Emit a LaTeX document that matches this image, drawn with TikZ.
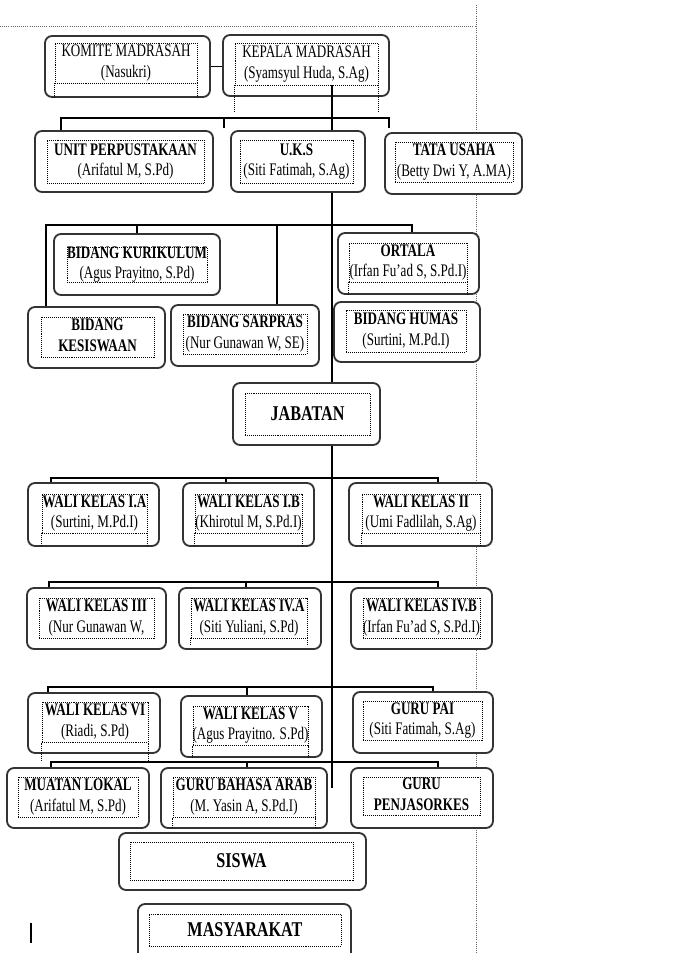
\documentclass[tikz,border=0pt]{standalone}
\usepackage{fontspec}
\setmainfont{Liberation Serif}
\usepackage{graphicx}
\usetikzlibrary{fit}

\newcommand{\boxtext}[2]{\scalebox{1}[1.35]{\begin{tabular}{@{}c@{}}\textbf{#1}\\#2\end{tabular}}}
\newcommand{\boxtextr}[2]{\scalebox{1}[1.35]{\begin{tabular}{@{}c@{}}#1\\#2\end{tabular}}}
\newcommand{\boxtitle}[1]{\scalebox{1}[1.3]{\fontsize{11.5}{13}\selectfont\bfseries #1}}

\begin{document}
\begin{tikzpicture}[x=0.025cm, y=-0.025cm,
  box/.style={draw=black!80, line width=1.3pt, rounded corners=5pt, fill=white, inner sep=0pt},
  tbox/.style={draw, dash pattern=on 0.7pt off 0.7pt, line width=0.7pt, inner sep=0pt},
  lbl/.style={inner sep=0pt, font=\fontsize{9.3}{10.8}\selectfont},
  dots/.style={dash pattern=on 0.7pt off 0.7pt, line width=0.7pt},
  link/.style={line width=0.8pt},
  guide/.style={black!60, dash pattern=on 0.6pt off 0.9pt, line width=0.6pt}]
\clip (0,0) rectangle (673,953);

% page margins
\draw[guide] (0,26) -- (476,26);
\draw[guide] (476,5) -- (476,953);

% top
\node[box, fit={(45,36)(210,97)}] (komite) {};
\node[tbox, fit={(55,43)(197,83)}] (komite-t) {};
\node[lbl] (komite-l) at (komite-t) {\boxtextr{KOMITE MADRASAH}{(Nasukri)}};
\node[box, fit={(223,35)(389,96)}] (kepala) {};
\node[tbox, fit={(235,43)(378,85)}] (kepala-t) {};
\node[lbl] (kepala-l) at (kepala-t) {\boxtextr{KEPALA MADRASAH}{(Syamsyul Huda, S.Ag)}};

\node[box, fit={(35,131)(213,192)}] (unit) {};
\node[tbox, fit={(47,140)(204,183)}] (unit-t) {};
\node[lbl] (unit-l) at (unit-t) {\boxtext{UNIT PERPUSTAKAAN}{(Arifatul M, S.Pd)}};
\node[box, fit={(231,131)(365,192)}] (uks) {};
\node[tbox, fit={(240,140)(353,183)}] (uks-t) {};
\node[lbl] (uks-l) at (uks-t) {\boxtext{U.K.S}{(Siti Fatimah, S.Ag)}};
\node[box, fit={(385,133)(522,194)}] (tata) {};
\node[tbox, fit={(395,142)(513,182)}] (tata-t) {};
\node[lbl] (tata-l) at (tata-t) {\boxtext{TATA USAHA}{(Betty Dwi Y, A.MA)}};

% bidang
\node[box, fit={(54,234)(220,295)}] (kurikulum) {};
\node[tbox, fit={(67,247)(207,282)}] (kurikulum-t) {};
\node[lbl] (kurikulum-l) at (kurikulum-t) {\boxtext{BIDANG KURIKULUM}{(Agus Prayitno, S.Pd)}};
\node[box, fit={(338,233)(479,294)}] (ortala) {};
\node[tbox, fit={(349,243)(467,282)}] (ortala-t) {};
\node[lbl] (ortala-l) at (ortala-t) {\boxtext{ORTALA}{(Irfan Fu'ad S, S.Pd.I)}};
\node[box, fit={(28,307)(165,368)}] (kesiswaan) {};
\node[tbox, fit={(41,317)(154,357)}] (kesiswaan-t) {};
\node[lbl] (kesiswaan-l) at (kesiswaan-t) {\boxtext{BIDANG}{\textbf{KESISWAAN}}};
\node[box, fit={(171,305)(319,366)}] (sarpras) {};
\node[tbox, fit={(183,314)(307,354)}] (sarpras-t) {};
\node[lbl] (sarpras-l) at (sarpras-t) {\boxtext{BIDANG SARPRAS}{(Nur Gunawan W, SE)}};
\node[box, fit={(334,302)(480,362)}] (humas) {};
\node[tbox, fit={(346,310)(466,352)}] (humas-t) {};
\node[lbl] (humas-l) at (humas-t) {\boxtext{BIDANG HUMAS}{(Surtini, M.Pd.I)}};

\node[box, fit={(233,383)(380,445)}] (jabatan) {};
\node[tbox, fit={(245,393)(370,435)}] (jabatan-t) {};
\node[lbl] (jabatan-l) at (jabatan-t) {\boxtitle{JABATAN}};

% wali kelas
\node[box, fit={(28,483)(159,546)}] (walia) {};
\node[tbox, fit={(42,494)(147,533)}] (walia-t) {};
\node[lbl] (walia-l) at (walia-t) {\boxtext{WALI KELAS I.A}{(Surtini, M.Pd.I)}};
\node[box, fit={(183,483)(314,546)}] (walib) {};
\node[tbox, fit={(195,494)(302,533)}] (walib-t) {};
\node[lbl] (walib-l) at (walib-t) {\boxtext{WALI KELAS I.B}{(Khirotul M, S.Pd.I)}};
\node[box, fit={(349,483)(492,546)}] (wali2) {};
\node[tbox, fit={(362,494)(480,533)}] (wali2-t) {};
\node[lbl] (wali2-l) at (wali2-t) {\boxtext{WALI KELAS II}{(Umi Fadlilah, S.Ag)}};

\node[box, fit={(27,588)(166,649)}] (wali3) {};
\node[tbox, fit={(39,598)(154,638)}] (wali3-t) {};
\node[lbl] (wali3-l) at (wali3-t) {\boxtext{WALI KELAS III}{(Nur Gunawan W,}};
\node[box, fit={(179,588)(321,649)}] (wali4a) {};
\node[tbox, fit={(191,598)(307,638)}] (wali4a-t) {};
\node[lbl] (wali4a-l) at (wali4a-t) {\boxtext{WALI KELAS IV.A}{(Siti Yuliani, S.Pd)}};
\node[box, fit={(351,588)(492,649)}] (wali4b) {};
\node[tbox, fit={(363,598)(480,638)}] (wali4b-t) {};
\node[lbl] (wali4b-l) at (wali4b-t) {\boxtext{WALI KELAS IV.B}{(Irfan Fu'ad S, S.Pd.I)}};

\node[box, fit={(28,693)(160,753)}] (wali6) {};
\node[tbox, fit={(42,702)(148,742)}] (wali6-t) {};
\node[lbl] (wali6-l) at (wali6-t) {\boxtext{WALI KELAS VI}{(Riadi, S.Pd)}};
\node[box, fit={(181,696)(322,757)}] (wali5) {};
\node[tbox, fit={(193,706)(308,745)}] (wali5-t) {};
\node[lbl] (wali5-l) at (wali5-t) {\boxtext{WALI KELAS V}{(Agus Prayitno. S.Pd)}};
\node[box, fit={(353,692)(493,753)}] (pai) {};
\node[tbox, fit={(363,701)(482,740)}] (pai-t) {};
\node[lbl] (pai-l) at (pai-t) {\boxtext{GURU PAI}{(Siti Fatimah, S.Ag)}};

\node[box, fit={(7,768)(149,828)}] (muatan) {};
\node[tbox, fit={(18,777)(138,817)}] (muatan-t) {};
\node[lbl] (muatan-l) at (muatan-t) {\boxtext{MUATAN LOKAL}{(Arifatul M, S.Pd)}};
\node[box, fit={(161,768)(327,828)}] (arab) {};
\node[tbox, fit={(173,777)(315,817)}] (arab-t) {};
\node[lbl] (arab-l) at (arab-t) {\boxtext{GURU BAHASA ARAB}{(M. Yasin A, S.Pd.I)}};
\node[box, fit={(351,768)(493,828)}] (penjas) {};
\node[tbox, fit={(363,777)(480,815)}] (penjas-t) {};
\node[lbl] (penjas-l) at (penjas-t) {\boxtext{GURU}{\textbf{PENJASORKES}}};

% bottom
\node[box, fit={(119,833)(366,890)}] (siswa) {};
\node[tbox, fit={(130,842)(353,880)}] (siswa-t) {};
\node[lbl] (siswa-l) at (siswa-t) {\boxtitle{SISWA}};
\node[box, fit={(138,904)(351,962)}] (masyarakat) {};
\node[tbox, fit={(149,914)(341,946)}] (masyarakat-t) {};
\node[lbl] (masyarakat-l) at (masyarakat-t) {\boxtitle{MASYARAKAT}};

% text box frames running past the bottom
\draw[dots] (komite-t.south west) -- ++(0,14) (komite-t.south east) -- ++(0,14);
\draw[dots] (kepala-t.south west) -- ++(0,27) (kepala-t.south east) -- ++(0,27);
\draw[dots] (ortala-t.south west) -- ++(0,12) (ortala-t.south east) -- ++(0,12);
\draw[dots] (walia-t.south west) -- ++(0,13) (walia-t.south east) -- ++(0,13);
\draw[dots] (walib-t.south west) -- ++(0,13) (walib-t.south east) -- ++(0,13);
\draw[dots] (wali2-t.south west) -- ++(0,13) (wali2-t.south east) -- ++(0,13);
\draw[dots] (wali4a-t.south west) -- ++(0,7) (wali4a-t.south east) -- ++(0,7);
\draw[dots] (wali6-t.south west) -- ++(0,18) (wali6-t.south east) -- ++(0,18);
\draw[dots] (wali5-t.south west) -- ++(0,12) (wali5-t.south east) -- ++(0,12);
\draw[dots] (arab-t.south west) -- ++(0,11) (arab-t.south east) -- ++(0,11);

% connectors
\coordinate (trunk) at (332,0);
\coordinate (tend) at (332,788);
\draw[link] (komite.east) -- (komite.east -| kepala.west);
\draw[link] (kepala-t.south -| trunk) -- (uks.north -| trunk);
\draw[link] (uks.south -| trunk) -- (jabatan.north -| trunk);
\draw[link] (jabatan.south -| trunk) -- (tend);

\coordinate (b1w) at (61,118);
\coordinate (b1e) at (389,118);
\coordinate (tick1a) at (224,128);
\coordinate (tick1b) at (389,128);
\draw[link] (unit.north -| b1w) -- (b1w) -- (b1e) -- (tick1b);
\draw[link] (b1w -| tick1a) -- (tick1a);

\coordinate (b2w) at (46,225);
\coordinate (b2e) at (412,225);
\coordinate (b2s) at (277,225);
\draw[link] (kesiswaan.north -| b2w) -- (b2w) -- (b2e) -- (ortala.north -| b2e);
\draw[link] (kurikulum.north) -- (kurikulum.north |- b2w);
\draw[link] (b2s) -- (sarpras.north -| b2s);

\coordinate (b3w) at (51,478);
\coordinate (b3e) at (438,478);
\coordinate (b3m) at (226,478);
\draw[link] (walia.north -| b3w) -- (b3w) -- (b3e) -- (wali2.north -| b3e);
\draw[link] (b3m) -- (walib.north -| b3m);

\coordinate (b4w) at (49,582);
\coordinate (b4e) at (438,582);
\coordinate (b4m) at (246,582);
\draw[link] (wali3.north -| b4w) -- (b4w) -- (b4e) -- (wali4b.north -| b4e);
\draw[link] (b4m) -- (wali4a.north -| b4m);

\coordinate (b5w) at (48,687);
\coordinate (b5e) at (433,687);
\coordinate (b5m) at (247,687);
\draw[link] (wali6.north -| b5w) -- (b5w) -- (b5e) -- (pai.north -| b5e);
\draw[link] (b5m) -- (wali5.north -| b5m);

\coordinate (b6w) at (51,762);
\coordinate (b6e) at (438,762);
\coordinate (b6m) at (247,762);
\draw[link] (muatan.north -| b6w) -- (b6w) -- (b6e) -- (penjas.north -| b6e);
\draw[link] (b6m) -- (arab.north -| b6m);

% cursor
\draw[line width=1.6pt] (31,923) -- (31,943);
\end{tikzpicture}
\end{document}
